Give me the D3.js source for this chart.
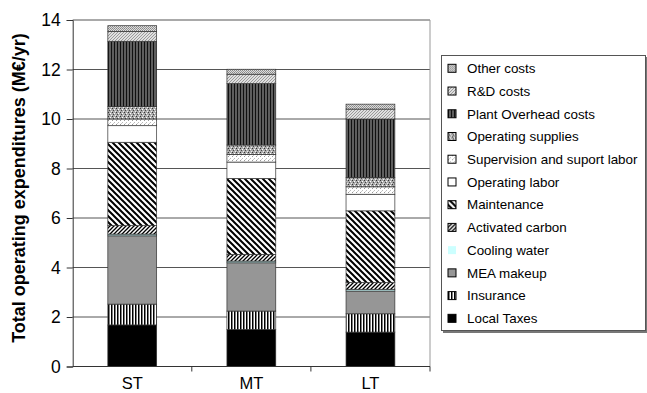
<!DOCTYPE html>
<html>
<head>
<meta charset="utf-8">
<script src="https://cdn.jsdelivr.net/npm/d3@7"></script>
<style>
  body { margin: 0; background: #fff; }
  svg { font-family: "Liberation Sans", Arial, sans-serif; }
</style>
</head>
<body>
<div id="chart"></div>
<script>
// scenarios on x axis
var categories = ["ST", "MT", "LT"];

// stack order, bottom to top
var seriesNames = ["Local Taxes", "Insurance", "MEA makeup", "Cooling water",
  "Activated carbon", "Maintenance", "Operating labor",
  "Supervision and suport labor", "Operating supplies",
  "Plant Overhead costs", "R&D costs", "Other costs"];

// M€/yr (ST, MT, LT)
var localTaxes        = [1.68, 1.50, 1.39];
var insurance         = [0.84, 0.74, 0.74];
var meaMakeup         = [2.76, 1.95, 0.92];
var coolingWater      = [0.07, 0.07, 0.07];
var activatedCarbon   = [0.34, 0.27, 0.27];
var maintenance       = [3.37, 3.07, 2.90];
var operatingLabor    = [0.67, 0.66, 0.67];
var supervision       = [0.27, 0.31, 0.30];
var operatingSupplies = [0.50, 0.38, 0.38];
var plantOverhead     = [2.64, 2.48, 2.36];
var rdCosts           = [0.40, 0.38, 0.40];
var otherCosts        = [0.23, 0.20, 0.20];

var yTicks = [0, 2, 4, 6, 8, 10, 12, 14];

var seriesValues = [localTaxes, insurance, meaMakeup, coolingWater, activatedCarbon,
  maintenance, operatingLabor, supervision, operatingSupplies, plantOverhead,
  rdCosts, otherCosts];

// rows for d3.stack
var rows = categories.map(function(c, i) {
  var r = { cat: c };
  seriesNames.forEach(function(s, j) { r[s] = seriesValues[j][i]; });
  return r;
});

var W = 647, H = 393;
var plotLeft = 72.7, plotRight = 430, plotTop = 20, plotBottom = 366.5;

var svg = d3.select("#chart").append("svg")
  .attr("width", W).attr("height", H);

// fill patterns
var defs = svg.append("defs");
function pat(id, w, h, draw) {
  var p = defs.append("pattern").attr("id", id)
    .attr("patternUnits", "userSpaceOnUse")
    .attr("width", w).attr("height", h);
  draw(p);
}
pat("p-ins", 3, 3, function(p) {
  p.append("rect").attr("width", 3).attr("height", 3).attr("fill", "#fff");
  p.append("rect").attr("width", 1.5).attr("height", 3).attr("fill", "#000");
});
pat("p-carbon", 4, 4, function(p) {
  p.append("rect").attr("width", 4).attr("height", 4).attr("fill", "#fff");
  p.append("path").attr("d", "M-1,1 l2,-2 M0,4 l4,-4 M3,5 l2,-2")
    .attr("stroke", "#000").attr("stroke-width", 1.3);
});
pat("p-maint", 6, 6, function(p) {
  p.append("rect").attr("width", 6).attr("height", 6).attr("fill", "#fff");
  p.append("path").attr("d", "M-1,5 l2,2 M0,0 l6,6 M5,-1 l2,2")
    .attr("stroke", "#000").attr("stroke-width", 2);
});
pat("p-sup", 4, 4, function(p) {
  p.append("rect").attr("width", 4).attr("height", 4).attr("fill", "#fff");
  p.append("rect").attr("x", 0).attr("y", 0).attr("width", 1).attr("height", 1).attr("fill", "#999");
  p.append("rect").attr("x", 2).attr("y", 2).attr("width", 1).attr("height", 1).attr("fill", "#bbb");
  p.append("rect").attr("x", 1).attr("y", 3).attr("width", 1).attr("height", 1).attr("fill", "#ccc");
});
pat("p-opsup", 4, 4, function(p) {
  p.append("rect").attr("width", 4).attr("height", 4).attr("fill", "#aaa");
  p.append("rect").attr("x", 0).attr("y", 0).attr("width", 1).attr("height", 1).attr("fill", "#333");
  p.append("rect").attr("x", 2).attr("y", 1).attr("width", 1).attr("height", 1).attr("fill", "#fff");
  p.append("rect").attr("x", 1).attr("y", 2).attr("width", 1).attr("height", 1).attr("fill", "#444");
  p.append("rect").attr("x", 3).attr("y", 3).attr("width", 1).attr("height", 1).attr("fill", "#eee");
});
pat("p-plant", 3, 3, function(p) {
  p.append("rect").attr("width", 3).attr("height", 3).attr("fill", "#5e5e5e");
  p.append("rect").attr("width", 1).attr("height", 3).attr("fill", "#111");
});
pat("p-rd", 3, 3, function(p) {
  p.append("rect").attr("width", 3).attr("height", 3).attr("fill", "#e0e0e0");
  p.append("path").attr("d", "M-1,1 l2,-2 M0,3 l3,-3 M2,4 l2,-2")
    .attr("stroke", "#888").attr("stroke-width", 0.8);
});
pat("p-other", 2, 2, function(p) {
  p.append("rect").attr("width", 2).attr("height", 2).attr("fill", "#ddd");
  p.append("rect").attr("width", 1).attr("height", 1).attr("fill", "#888");
  p.append("rect").attr("x", 1).attr("y", 1).attr("width", 1).attr("height", 1).attr("fill", "#999");
});

var fills = {
  "Local Taxes": "#000",
  "Insurance": "url(#p-ins)",
  "MEA makeup": "#969696",
  "Cooling water": "#ccffff",
  "Activated carbon": "url(#p-carbon)",
  "Maintenance": "url(#p-maint)",
  "Operating labor": "#fff",
  "Supervision and suport labor": "url(#p-sup)",
  "Operating supplies": "url(#p-opsup)",
  "Plant Overhead costs": "url(#p-plant)",
  "R&D costs": "url(#p-rd)",
  "Other costs": "url(#p-other)"
};

var x = d3.scaleBand().domain(categories).range([plotLeft, plotRight])
  .paddingInner(0.59).paddingOuter(0.295);
var y = d3.scaleLinear().domain([0, 14]).range([plotBottom, plotTop]);

// gridlines
svg.append("g").selectAll("line")
  .data(yTicks.filter(function(d) { return d > 0; }))
  .enter().append("line")
    .attr("x1", plotLeft).attr("x2", plotRight)
    .attr("y1", function(d) { return y(d); })
    .attr("y2", function(d) { return y(d); })
    .attr("stroke", "#555").attr("stroke-width", 1);

// right frame
svg.append("line")
  .attr("x1", plotRight).attr("x2", plotRight).attr("y1", plotTop).attr("y2", plotBottom)
  .attr("stroke", "#999").attr("stroke-width", 1);

var stack = d3.stack().keys(seriesNames)(rows);

svg.append("g").selectAll("g")
  .data(stack)
  .enter().append("g")
    .attr("fill", function(d) { return fills[d.key]; })
  .selectAll("rect")
  .data(function(d) { return d; })
  .enter().append("rect")
    .attr("x", function(d) { return x(d.data.cat); })
    .attr("width", x.bandwidth())
    .attr("y", function(d) { return y(d[1]); })
    .attr("height", function(d) { return y(d[0]) - y(d[1]); })
    .attr("stroke", "#333").attr("stroke-width", 0.7);

// y axis
var yAxis = svg.append("g")
  .attr("transform", "translate(" + plotLeft + ",0)")
  .call(d3.axisLeft(y).tickValues(yTicks).tickSize(6).tickPadding(6));
yAxis.selectAll("text").attr("font-size", 17.5).attr("fill", "#000")
  .style("font-family", "Liberation Sans, Arial, sans-serif");
yAxis.select(".domain").attr("stroke", "#333");
yAxis.selectAll(".tick line").attr("stroke", "#333");

// x axis with ticks between categories
svg.append("line")
  .attr("x1", plotLeft).attr("x2", plotRight).attr("y1", plotBottom).attr("y2", plotBottom)
  .attr("stroke", "#333");
svg.append("g").selectAll("line")
  .data(categories)
  .enter().append("line")
    .attr("x1", function(d) { return x(d) + x.bandwidth() / 2 + x.step() / 2; })
    .attr("x2", function(d) { return x(d) + x.bandwidth() / 2 + x.step() / 2; })
    .attr("y1", plotBottom).attr("y2", plotBottom + 5)
    .attr("stroke", "#333");
svg.append("g").selectAll("text")
  .data(categories)
  .enter().append("text")
    .attr("x", function(d) { return x(d) + x.bandwidth() / 2; })
    .attr("y", 388.5)
    .attr("text-anchor", "middle")
    .attr("font-size", 16.5)
    .text(function(d) { return d; });

// y title
svg.append("text")
  .attr("transform", "translate(25,188) rotate(-90)")
  .attr("text-anchor", "middle")
  .attr("font-size", 18)
  .attr("font-weight", "bold")
  .text("Total operating expenditures (M\u20ac/yr)");

// legend
var lg = svg.append("g");
lg.append("rect").attr("x", 443).attr("y", 57).attr("width", 204).attr("height", 276)
  .attr("fill", "#777");
lg.append("rect").attr("x", 441.5).attr("y", 55.5).attr("width", 204).attr("height", 275)
  .attr("fill", "#fff").attr("stroke", "#555").attr("stroke-width", 1);

var legendItems = seriesNames.slice().reverse();
var item = lg.selectAll("g.item")
  .data(legendItems)
  .enter().append("g")
    .attr("class", "item")
    .attr("transform", function(d, i) { return "translate(448," + (68.3 + i * 22.73) + ")"; });
item.append("rect")
  .attr("x", 0).attr("y", -4).attr("width", 8).attr("height", 8)
  .attr("fill", function(d) { return fills[d]; })
  .attr("stroke", function(d) { return d === "Cooling water" ? "none" : "#000"; })
  .attr("stroke-width", 1);
item.append("text")
  .attr("x", 19).attr("y", 4.8)
  .attr("font-size", 13.4)
  .text(function(d) { return d; });
</script>
</body>
</html>
